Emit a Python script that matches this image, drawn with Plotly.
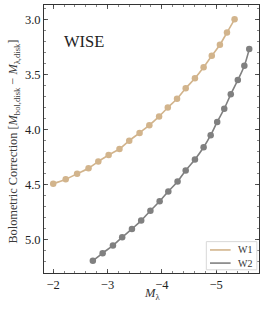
import plotly.graph_objects as go

# W1 band
w1_mag = [-2.00, -2.23, -2.44, -2.65, -2.83, -3.02, -3.22, -3.40, -3.59, -3.77,
          -3.95, -4.11, -4.28, -4.44, -4.61, -4.77, -4.92, -5.07, -5.20, -5.34]
w1_bc = [4.49, 4.45, 4.40, 4.35, 4.29, 4.23, 4.175, 4.10, 4.03, 3.96,
         3.88, 3.80, 3.72, 3.625, 3.535, 3.435, 3.33, 3.23, 3.12, 3.00]

# W2 band
w2_mag = [-2.73, -2.91, -3.10, -3.27, -3.45, -3.62, -3.79, -3.96, -4.12, -4.29,
          -4.44, -4.61, -4.77, -4.90, -5.02, -5.15, -5.27, -5.40, -5.52, -5.61]
w2_bc = [5.19, 5.12, 5.05, 4.975, 4.90, 4.825, 4.735, 4.65, 4.56, 4.47,
         4.37, 4.27, 4.16, 4.05, 3.93, 3.81, 3.68, 3.55, 3.42, 3.27]

series_names = ["W1", "W2"]

x_tickvals = [-2, -3, -4, -5]
x_ticktext = ["−2", "−3", "−4", "−5"]
y_tickvals = [3.0, 3.5, 4.0, 4.5, 5.0]
y_ticktext = ["3.0", "3.5", "4.0", "4.5", "5.0"]

c_w1 = "#D2B48C"
c_w2 = "#808080"
FONT = "Liberation Serif"

fig = go.Figure()
for name, xs, ys, col in [(series_names[0], w1_mag, w1_bc, c_w1),
                          (series_names[1], w2_mag, w2_bc, c_w2)]:
    fig.add_trace(go.Scatter(x=xs, y=ys, mode="lines", name=name, showlegend=False,
                             line=dict(color=col, width=1.6, shape="spline", smoothing=1.0)))
    fig.add_trace(go.Scatter(x=xs, y=ys, mode="markers", showlegend=False,
                             marker=dict(color=col, size=6.5, line=dict(width=0))))

axis_common = dict(
    showgrid=False, zeroline=False, showline=True, linecolor="#333333", linewidth=1,
    mirror="allticks", ticks="inside", ticklen=4, tickwidth=0.8, tickcolor="#333333",
    tickfont=dict(family=FONT, size=12.5, color="#222222"), automargin=False,
)

fig.update_xaxes(
    **axis_common, range=[-1.83, -5.79], tickvals=x_tickvals, ticktext=x_ticktext,
    minor=dict(ticks="inside", ticklen=2, dtick=0.2, tick0=0, tickcolor="#333333", tickwidth=0.6),
)
fig.update_yaxes(
    **axis_common, range=[5.30, 2.87], tickvals=y_tickvals, ticktext=y_ticktext,
    minor=dict(ticks="inside", ticklen=2, dtick=0.1, tick0=0, tickcolor="#333333", tickwidth=0.6),
)

# y-axis title
fig.add_annotation(x=-0.14, y=0.49, xref="paper", yref="paper",
                   text="Bolometric Correction [<i>M</i><sub>bol,disk</sub> − <i>M</i><sub>λ,disk</sub>]",
                   textangle=-90, showarrow=False, xanchor="center", yanchor="middle",
                   font=dict(family=FONT, size=12.3, color="#3a3a3a"))

# x-axis title
fig.add_annotation(x=0.5, y=-0.08, xref="paper", yref="paper", text="<i>M</i><sub>λ</sub>",
                   showarrow=False, xanchor="center", yanchor="middle",
                   font=dict(family=FONT, size=12.5, color="#333333"))

fig.add_annotation(x=0.085, y=0.865, xref="paper", yref="paper", text="WISE",
                   showarrow=False, xanchor="left", yanchor="middle",
                   font=dict(family=FONT, size=16.5, color="#222222"))

# legend box (drawn manually to match compact style)
fig.add_shape(type="rect", xref="paper", yref="paper", x0=0.755, x1=0.99, y0=0.012, y1=0.117,
              line=dict(color="#d8d8d8", width=1), fillcolor="rgba(255,255,255,0.9)", layer="above")
for yy, col, name in [(0.086, c_w1, series_names[0]), (0.037, c_w2, series_names[1])]:
    fig.add_shape(type="line", xref="paper", yref="paper", x0=0.772, x1=0.868, y0=yy, y1=yy,
                  line=dict(color=col, width=1.6), layer="above")
    fig.add_annotation(x=0.895, y=yy, xref="paper", yref="paper", text=name, showarrow=False,
                       xanchor="left", yanchor="middle",
                       font=dict(family=FONT, size=10, color="#333333"))

fig.update_layout(
    width=266, height=311,
    margin=dict(l=44, r=7, t=5, b=38, autoexpand=False),
    paper_bgcolor="white", plot_bgcolor="white",
    showlegend=False,
)

fig.write_html("out.html", config={"displayModeBar": False, "staticPlot": True},
               post_script="document.body.style.margin='0';")
